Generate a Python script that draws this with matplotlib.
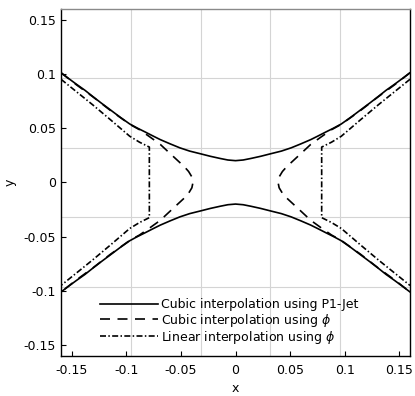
import matplotlib
matplotlib.use('Agg')
import matplotlib.pyplot as plt
from matplotlib import rc
import numpy as np

rc('font', **{'family': 'DejaVu Sans', 'size': 9})
rc('axes', unicode_minus=False)
rc('mathtext', fontset='dejavusans')

# upper-left quarter of each curve (mirrored below)
p1_x = [-0.160, -0.153, -0.146, -0.138, -0.131, -0.123, -0.115, -0.106, -0.097, -0.090,
        -0.083, -0.076, -0.069, -0.060, -0.051, -0.042, -0.032, -0.023, -0.014, -0.007, 0.0]
p1_y = [0.1010, 0.0957, 0.0905, 0.0848, 0.0792, 0.0730, 0.0670, 0.0602, 0.0538, 0.0500,
        0.0465, 0.0429, 0.0394, 0.0355, 0.0318, 0.0288, 0.0263, 0.0240, 0.0220, 0.0206, 0.0200]

cub_x = [-0.160, -0.146, -0.131, -0.115, -0.097, -0.088, -0.078, -0.069, -0.061,
         -0.054, -0.047, -0.043, -0.040, -0.039]
cub_y = [0.1010, 0.0900, 0.0790, 0.0665, 0.0535, 0.0485, 0.0415, 0.0350, 0.0275,
         0.0210, 0.0145, 0.0100, 0.0050, 0.0]

lin_x = [-0.160, -0.131, -0.115, -0.097, -0.088, -0.079, -0.079]
lin_y = [0.0950, 0.0715, 0.0580, 0.0425, 0.0370, 0.0325, 0.0]

labels = ['Cubic interpolation using P1-Jet',
          r'Cubic interpolation using $\phi$',
          r'Linear interpolation using $\phi$']

ticks = [-0.15, -0.1, -0.05, 0, 0.05, 0.1, 0.15]
tick_labels = ['-0.15', '-0.1', '-0.05', '0', '0.05', '0.1', '0.15']
grid_pos = [-0.096, -0.032, 0.032, 0.096]


def mirror_x(x, y):
    # upper-left half -> full upper branch (left to right)
    x = np.asarray(x)
    y = np.asarray(y)
    return np.concatenate([x, -x[::-1][1:]]), np.concatenate([y, y[::-1][1:]])


def left_loop(x, y):
    # upper-left quarter -> closed left piece (top to bottom)
    x = np.asarray(x)
    y = np.asarray(y)
    return np.concatenate([x, x[::-1][1:]]), np.concatenate([y, -y[::-1][1:]])


fig = plt.figure(figsize=(4.15, 3.96), dpi=100)
ax = fig.add_axes([0.147, 0.101, 0.841, 0.877])

lw = 1.2
solid = '-'
dashed = (0, (6, 4.5))
dashdot = (0, (3.6, 1.4, 0.9, 1.4))

fx, fy = mirror_x(p1_x, p1_y)
ax.plot(fx, fy, color='black', lw=lw, ls=solid, label=labels[0])
ax.plot(fx, -fy, color='black', lw=lw, ls=solid)

lx, ly = left_loop(cub_x, cub_y)
ax.plot(lx, ly, color='black', lw=lw, ls=dashed, label=labels[1])
ax.plot(-lx, ly, color='black', lw=lw, ls=dashed)

lx, ly = left_loop(lin_x, lin_y)
ax.plot(lx, ly, color='black', lw=lw, ls=dashdot, label=labels[2])
ax.plot(-lx, ly, color='black', lw=lw, ls=dashdot)

ax.set_xlim(-0.16, 0.16)
ax.set_ylim(-0.16, 0.16)
ax.set_xticks(ticks)
ax.set_xticklabels(tick_labels)
ax.set_yticks(ticks)
ax.set_yticklabels(tick_labels)
ax.set_xticks(grid_pos, minor=True)
ax.set_yticks(grid_pos, minor=True)
ax.grid(which='minor', color='#d4d4d4', lw=0.8)
ax.grid(which='major', visible=False)
ax.tick_params(which='major', direction='in', length=3.5, width=0.8, top=False, right=False)
ax.tick_params(axis='x', which='major', pad=5.5)
ax.tick_params(which='minor', length=0)
ax.set_axisbelow(True)

for side in ['left', 'bottom', 'right']:
    ax.spines[side].set_color('black')
    ax.spines[side].set_linewidth(1.0)
ax.spines['top'].set_color('#8a8a8a')
ax.spines['top'].set_linewidth(1.0)

ax.set_xlabel('x', labelpad=3.5)
ax.set_ylabel('y', labelpad=5)

ax.legend(loc='upper left', bbox_to_anchor=(0.112, 0.166), frameon=False,
          borderpad=0, borderaxespad=0, handlelength=4.6, handletextpad=0.3,
          labelspacing=0.02)

fig.savefig('out.png', dpi=100)
